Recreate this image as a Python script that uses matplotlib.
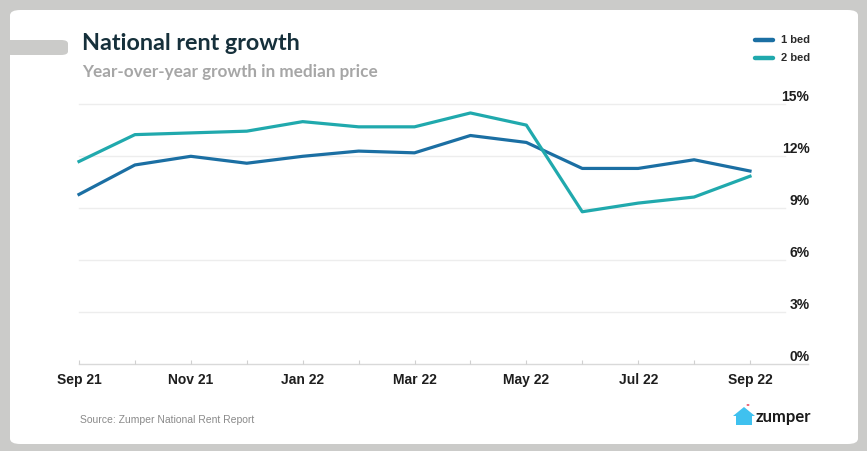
import matplotlib
matplotlib.use("Agg")
import matplotlib.pyplot as plt
from matplotlib.patches import FancyBboxPatch, Polygon, Circle
from matplotlib.lines import Line2D

months = ["Sep 21", "Oct 21", "Nov 21", "Dec 21", "Jan 22", "Feb 22", "Mar 22",
          "Apr 22", "May 22", "Jun 22", "Jul 22", "Aug 22", "Sep 22"]
one_bed = [9.8, 11.5, 12.0, 11.6, 12.0, 12.3, 12.2, 13.2, 12.8, 11.3, 11.3, 11.8, 11.15]
two_bed = [11.7, 13.25, 13.35, 13.45, 14.0, 13.7, 13.7, 14.5, 13.8, 8.8, 9.3, 9.65, 10.85]
y_ticks = [0, 3, 6, 9, 12, 15]
series_names = ["1 bed", "2 bed"]

C1 = "#1b6fa3"
C2 = "#20a9ad"
W, H = 867, 451

fig = plt.figure(figsize=(W / 100, H / 100), dpi=100)
fig.patch.set_facecolor("#cbcbc9")

def fx(px):
    return px / W

def fy(py):
    return 1 - py / H

# white card
card = FancyBboxPatch((fx(10), fy(444)), fx(848), 434 / H,
                      boxstyle="round,pad=0,rounding_size=0.012",
                      transform=fig.transFigure, facecolor="white",
                      edgecolor="none", zorder=0)
fig.patches.append(card)
# grey tab on left
tab = FancyBboxPatch((fx(4), fy(55)), fx(64), 15 / H,
                     boxstyle="round,pad=0,rounding_size=0.008",
                     transform=fig.transFigure, facecolor="#cbcbc9",
                     edgecolor="none", zorder=1)
fig.patches.append(tab)

# axes placement: x=0 -> 79px, x=12 -> 750px ; y=0 -> 364.3px, y=15 -> 104.3px
step = (750 - 79) / 12
x_right = (808 - 79) / step
ax = fig.add_axes([fx(79), fy(364.3), fx(808 - 79), (364.3 - 104.3) / H])
ax.set_zorder(5)
ax.set_facecolor("none")
ax.set_xlim(0, x_right)
ax.set_ylim(0, 15)
for s in ax.spines.values():
    s.set_visible(False)

xs = list(range(len(months)))
grid_end = (785 - 79) / step
for v in y_ticks:
    if v == 0:
        ax.plot([0, x_right], [0, 0], color="#d9d9d9", lw=1.0, zorder=1, clip_on=False)
    else:
        ax.plot([0, grid_end], [v, v], color="#ededed", lw=1.0, zorder=1, clip_on=False)
    ax.annotate(f"{v}%", xy=(x_right, v), xytext=(1, 0), textcoords="offset points",
                ha="right", va="bottom", fontsize=10, fontweight="bold",
                color="#1e1e1e", family="Liberation Sans", annotation_clip=False)

ax.plot(xs, one_bed, color=C1, lw=2.3, solid_joinstyle="round", zorder=3, clip_on=False)
ax.plot(xs, two_bed, color=C2, lw=2.3, solid_joinstyle="round", zorder=3, clip_on=False)

ax.set_yticks([])
ax.set_xticks(xs[::2])
ax.set_xticklabels(months[::2])
ax.set_xticks(xs[1::2], minor=True)
ax.tick_params(axis="x", which="both", direction="in", length=3, width=0.8,
               color="#d0d0d0", pad=6, labelsize=10, labelcolor="#1e1e1e")
for lab in ax.get_xticklabels():
    lab.set_fontweight("bold")
    lab.set_family("Liberation Sans")

# title & subtitle
fig.text(fx(82), fy(43), "National rent growth", fontsize=16.8, fontweight="bold",
         color="#16303b", family="Lato", va="center", ha="left")
fig.text(fx(82), fy(72), "Year-over-year growth in median price", fontsize=12.3,
         fontweight="bold", color="#a6a6a6", family="Lato", va="center", ha="left")

# legend
for i, (name, col) in enumerate(zip(series_names, [C1, C2])):
    yy = fy(40 + 18 * i)
    fig.add_artist(Line2D([fx(755), fx(773)], [yy, yy], color=col, lw=3.2,
                          solid_capstyle="round", transform=fig.transFigure))
    fig.text(fx(781), yy, name, fontsize=8, color="#2a2a2a", family="Liberation Sans",
             fontweight="bold", va="center", ha="left")

# source
fig.text(fx(80), fy(420), "Source: Zumper National Rent Report", fontsize=7.5,
         color="#8a8a8a", family="Liberation Sans", va="center", ha="left")

# zumper logo
house = Polygon([(fx(736), fy(425)), (fx(736), fy(416)), (fx(733), fy(416)),
                 (fx(744), fy(407)), (fx(755), fy(416)), (fx(752), fy(416)),
                 (fx(752), fy(425))], closed=True, transform=fig.transFigure,
                facecolor="#3fc1ef", edgecolor="none")
fig.patches.append(house)
fig.patches.append(Circle((fx(748), fy(405)), 1.5 / W, transform=fig.transFigure,
                          facecolor="#e8324a", edgecolor="none"))
fig.text(fx(756), fy(417), "zumper", fontsize=12, fontweight="bold", color="#1a1a1a",
         family="Lato", va="center", ha="left")

fig.savefig("out.png", dpi=100, facecolor=fig.get_facecolor())
